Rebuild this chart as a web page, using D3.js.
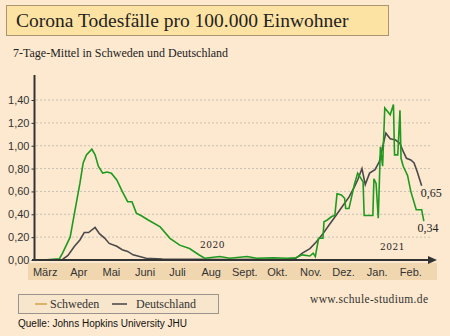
<!DOCTYPE html>
<html>
<head>
<meta charset="utf-8">
<script src="https://cdn.jsdelivr.net/npm/d3@7/dist/d3.min.js"></script>
<style>
  html, body { margin: 0; padding: 0; background: #fde9cf; }
  svg { display: block; }
</style>
</head>
<body>
<svg id="chart" width="450" height="336"></svg>
<script>
// 7-day average deaths per 100,000
const schwedenDates = ["2020-03-13","2020-03-28","2020-03-31","2020-04-07","2020-04-11","2020-04-16","2020-04-19","2020-04-22","2020-04-27","2020-04-30","2020-05-03","2020-05-07","2020-05-11","2020-05-15","2020-05-20","2020-05-25","2020-05-30","2020-06-03","2020-06-07","2020-06-12","2020-06-18","2020-06-29","2020-07-08","2020-07-17","2020-07-26","2020-08-04","2020-08-09","2020-08-23","2020-09-01","2020-09-17","2020-09-26","2020-10-11","2020-10-24","2020-11-01","2020-11-07","2020-11-14","2020-11-17","2020-11-19","2020-11-22","2020-11-26","2020-11-27","2020-11-30","2020-12-04","2020-12-07","2020-12-09","2020-12-13","2020-12-16","2020-12-17","2020-12-20","2020-12-25","2020-12-28","2021-01-02","2021-01-03","2021-01-11","2021-01-12","2021-01-14","2021-01-16","2021-01-18","2021-01-20","2021-01-22","2021-01-27","2021-01-30","2021-01-31","2021-02-03","2021-02-05","2021-02-06","2021-02-08","2021-02-12","2021-02-15","2021-02-20","2021-02-25","2021-02-27"];
const schwedenValues = [0,0.01,0.06,0.2,0.41,0.67,0.85,0.92,0.97,0.92,0.82,0.76,0.77,0.76,0.7,0.6,0.51,0.51,0.41,0.385,0.35,0.29,0.19,0.13,0.1,0.044,0.015,0.03,0.015,0.03,0.015,0.02,0.015,0.02,0.045,0.035,0.06,0.03,0.19,0.19,0.335,0.35,0.38,0.39,0.58,0.57,0.54,0.45,0.45,0.66,0.76,0.685,0.39,0.39,0.71,0.67,0.365,0.99,0.82,1.33,1.27,1.36,0.92,0.92,1.31,0.89,0.82,0.74,0.6,0.44,0.44,0.34];

const deutschlandDates = ["2020-03-13","2020-03-31","2020-04-05","2020-04-11","2020-04-16","2020-04-20","2020-04-24","2020-04-30","2020-05-04","2020-05-09","2020-05-13","2020-05-20","2020-05-25","2020-05-30","2020-06-04","2020-06-10","2020-06-16","2020-07-01","2020-08-01","2020-09-01","2020-10-01","2020-10-24","2020-11-01","2020-11-07","2020-11-14","2020-11-20","2020-11-26","2020-12-02","2020-12-08","2020-12-14","2020-12-20","2020-12-25","2020-12-28","2021-01-01","2021-01-04","2021-01-08","2021-01-13","2021-01-17","2021-01-20","2021-01-23","2021-01-27","2021-02-01","2021-02-05","2021-02-08","2021-02-11","2021-02-15","2021-02-18","2021-02-21","2021-02-25"];
const deutschlandValues = [0,0.005,0.04,0.12,0.175,0.24,0.24,0.285,0.23,0.19,0.145,0.12,0.09,0.075,0.045,0.03,0.015,0.008,0.006,0.005,0.006,0.008,0.015,0.06,0.1,0.16,0.23,0.31,0.39,0.47,0.55,0.64,0.7,0.8,0.66,0.76,0.79,0.86,0.99,1.11,1.06,1.05,1.02,0.95,0.89,0.875,0.85,0.77,0.65];

const monthLabels = ["März","Apr","Mai","Juni","Juli","Aug","Sept.","Okt.","Nov.","Dez.","Jan.","Feb."];
const yTicks = [0, 0.2, 0.4, 0.6, 0.8, 1.0, 1.2, 1.4];

const parse = d3.timeParse("%Y-%m-%d");
const fmt = d3.format(".2f");
const comma = (v) => fmt(v).replace(".", ",");

const svg = d3.select("#chart");
const serif = "'Liberation Serif', serif";
const sans = "'Liberation Sans', Arial, sans-serif";

// background
svg.append("rect").attr("width", 450).attr("height", 336).attr("fill", "#fde9cf");

// title box
svg.append("rect")
  .attr("x", 6.5).attr("y", 5.5).attr("width", 382).attr("height", 30)
  .attr("fill", "#fde3a3").attr("stroke", "#a89572");
svg.append("text")
  .attr("x", 16).attr("y", 27)
  .attr("font-family", serif)
  .attr("font-size", 19.5).attr("fill", "#222")
  .text("Corona Todesfälle pro 100.000 Einwohner");
svg.append("text")
  .attr("x", 13).attr("y", 57)
  .attr("font-family", serif)
  .attr("font-size", 12).attr("fill", "#222")
  .text("7-Tage-Mittel in Schweden und Deutschland");

const x = d3.scaleTime()
  .domain([new Date(2020, 2, 1), new Date(2021, 2, 1)])
  .range([30, 426]);
const y = d3.scaleLinear().domain([0, 1.4]).range([260, 100]);

// month band
svg.append("rect")
  .attr("x", 28).attr("y", 263).attr("width", 409).attr("height", 17)
  .attr("fill", "#f1d7b0");

// gridlines
svg.append("g")
  .selectAll("line")
  .data(yTicks.slice(1))
  .join("line")
  .attr("x1", 36).attr("x2", 430)
  .attr("y1", (d) => y(d)).attr("y2", (d) => y(d))
  .attr("stroke", "#c9c0b4").attr("stroke-width", 1)
  .attr("stroke-dasharray", "2,2");

// y axis
const yAxis = svg.append("g")
  .attr("transform", "translate(34.5,0)")
  .call(d3.axisLeft(y).tickValues(yTicks).tickFormat(comma).tickSize(3).tickPadding(2));
yAxis.select(".domain").remove();
yAxis.selectAll("line").attr("stroke", "#333");
yAxis.selectAll("text")
  .attr("font-family", sans).attr("font-size", 11).attr("fill", "#333");
svg.append("line")
  .attr("x1", 34.5).attr("x2", 34.5).attr("y1", 75).attr("y2", 261)
  .attr("stroke", "#333").attr("stroke-width", 2);

// month labels
const mids = monthLabels.map((m, i) => new Date(2020, 2 + i, 15));
svg.append("g")
  .selectAll("text")
  .data(monthLabels)
  .join("text")
  .attr("x", (d, i) => x(mids[i]))
  .attr("y", 276)
  .attr("text-anchor", "middle")
  .attr("font-family", sans).attr("font-size", 11).attr("fill", "#333")
  .text((d) => d);

// lines
const line = d3.line().x((d) => x(d[0])).y((d) => y(d[1]));
const de = deutschlandDates.map((d, i) => [parse(d), deutschlandValues[i]]);
const se = schwedenDates.map((d, i) => [parse(d), schwedenValues[i]]);

svg.append("path").datum(de)
  .attr("d", line).attr("fill", "none")
  .attr("stroke", "#4a4a4a").attr("stroke-width", 1.6);
svg.append("path").datum(se)
  .attr("d", line).attr("fill", "none")
  .attr("stroke", "#1f9a1f").attr("stroke-width", 1.6);

// x axis with arrow
svg.append("line")
  .attr("x1", 32).attr("x2", 430).attr("y1", 260).attr("y2", 260)
  .attr("stroke", "#333").attr("stroke-width", 2);
svg.append("path")
  .attr("d", "M428,256 L437,260 L428,264 Z")
  .attr("fill", "#333");

// annotations
svg.append("text").attr("x", 200).attr("y", 248)
  .attr("font-family", "'DejaVu Serif', serif").attr("font-size", 9).attr("fill", "#222")
  .attr("letter-spacing", 0.5).text("2020");
svg.append("text").attr("x", 380).attr("y", 250)
  .attr("font-family", "'DejaVu Serif', serif").attr("font-size", 9).attr("fill", "#222")
  .attr("letter-spacing", 0.5).text("2021");
svg.append("text").attr("x", x(parse("2021-02-26")) - 2).attr("y", y(0.65) + 11)
  .attr("font-family", serif).attr("font-size", 12).attr("fill", "#222")
  .text(comma(0.65));
svg.append("text").attr("x", x(parse("2021-02-24")) - 3).attr("y", y(0.34) + 11)
  .attr("font-family", serif).attr("font-size", 12).attr("fill", "#222")
  .text(comma(0.34));

// legend
svg.append("rect")
  .attr("x", 18.5).attr("y", 294.5).attr("width", 200).attr("height", 19)
  .attr("fill", "#f8e6cc").attr("stroke", "#9a9490");
svg.append("line").attr("x1", 35).attr("x2", 47).attr("y1", 304).attr("y2", 304)
  .attr("stroke", "#d2a24a").attr("stroke-width", 1.5);
svg.append("text").attr("x", 50).attr("y", 308)
  .attr("font-family", serif).attr("font-size", 12).attr("fill", "#333")
  .text("Schweden");
svg.append("line").attr("x1", 112).attr("x2", 127).attr("y1", 304).attr("y2", 304)
  .attr("stroke", "#444").attr("stroke-width", 1.5);
svg.append("text").attr("x", 136).attr("y", 308)
  .attr("font-family", serif).attr("font-size", 12).attr("fill", "#333")
  .text("Deutschland");

svg.append("text").attr("x", 310).attr("y", 303)
  .attr("font-family", serif).attr("font-size", 11.5).attr("fill", "#333")
  .attr("letter-spacing", 0.35)
  .text("www.schule-studium.de");
svg.append("text").attr("x", 18).attr("y", 327)
  .attr("font-family", sans).attr("font-size", 10).attr("fill", "#111")
  .text("Quelle: Johns Hopkins University JHU");
</script>
</body>
</html>
